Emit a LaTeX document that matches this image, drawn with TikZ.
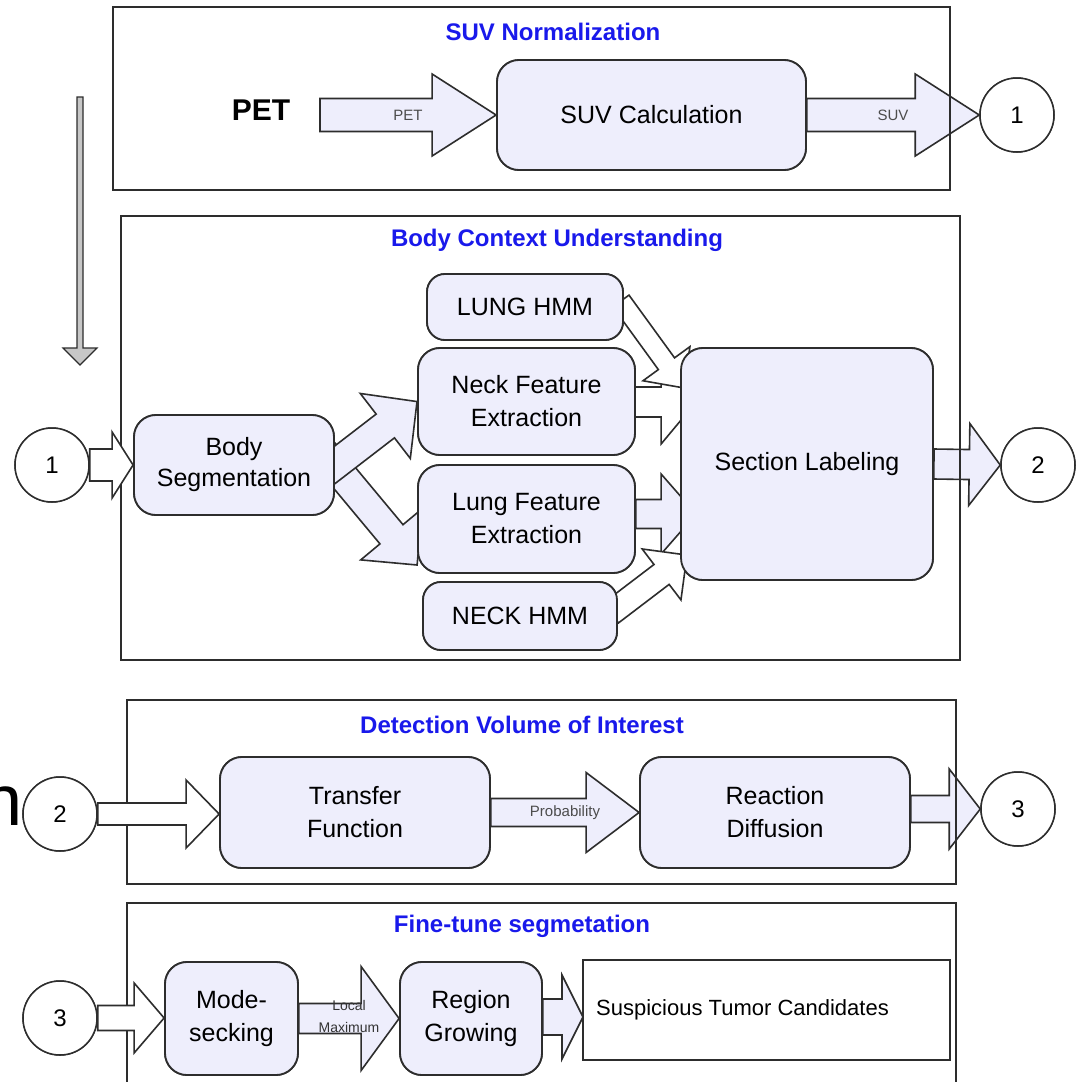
\documentclass[tikz,border=0pt]{standalone}
\usepackage{fontspec}
\setmainfont{Liberation Sans}
\usetikzlibrary{calc}
\definecolor{lav}{RGB}{238,238,252}
\definecolor{ttlblue}{RGB}{25,25,235}
\definecolor{edge}{RGB}{45,45,45}
\newcommand\fsz[2]{\fontsize{#1}{#2}\selectfont}
\newcommand\blockarrow[6][]{%
  \draw[barrow,#1] let \p1=#2, \p2=#3,
    \n1={atan2(\y2-\y1,\x2-\x1)},
    \n2={veclen(\x2-\x1,\y2-\y1)} in
    [shift={(\p1)},rotate=\n1]
    (0pt,-#4) -- (\n2-#6,-#4) -- (\n2-#6,-#5) -- (\n2,0pt) -- (\n2-#6,#5) -- (\n2-#6,#4) -- (0pt,#4) -- cycle;}
\tikzset{
  proc/.style={draw=edge, line width=1.8pt, fill=lav, rounded corners=22pt, align=center, inner sep=0pt, font=\fsz{25}{33}},
  circ/.style={circle, draw=edge, line width=1.5pt, fill=white, minimum size=74pt, inner sep=0pt, font=\fsz{24}{28}},
  frame/.style={draw=edge, line width=1.8pt},
  ttl/.style={text=ttlblue, font=\bfseries\fsz{24}{28}},
  barrow/.style={draw=edge, line width=1.6pt, line join=miter},
  lbl/.style={text=black!70, font=\fsz{15}{16}, inner sep=0pt}
}
\begin{document}
\begin{tikzpicture}[x=1pt,y=-1pt]
\useasboundingbox (0,0) rectangle (1081,1082);
\fill[white] (0,0) rectangle (1081,1082);

% ---------- nodes (positions) ----------
\path
  node[font=\bfseries\fsz{30}{34}] (pet) at (261,110) {PET}
  coordinate (petsrc) at (320,115)
  node[proc, minimum width=309pt, minimum height=110pt] (suvcalc) at (651.5,115) {SUV Calculation}
  node[circ] (c1a) at (1017,115) {1}
  node[proc, minimum width=196pt, minimum height=66pt, rounded corners=18pt] (lunghmm) at (525,307) {LUNG HMM}
  node[proc, minimum width=217pt, minimum height=107pt] (neckfe) at (526.5,401.5) {Neck Feature\\Extraction}
  node[proc, minimum width=217pt, minimum height=108pt] (lungfe) at (526.5,519) {Lung Feature\\Extraction}
  node[proc, minimum width=194pt, minimum height=68pt, rounded corners=18pt] (neckhmm) at (520,616) {NECK HMM}
  node[proc, minimum width=200pt, minimum height=100pt, font=\fsz{25}{31}] (bodyseg) at (234,465) {Body\\Segmentation}
  node[proc, minimum width=252pt, minimum height=232pt] (seclab) at (807,464) {Section Labeling}
  node[circ] (c1b) at (52,465) {1}
  node[circ] (c2a) at (1038,465) {2}
  node[proc, minimum width=270pt, minimum height=111pt] (transfer) at (355,812.5) {Transfer\\Function}
  node[proc, minimum width=270pt, minimum height=111pt] (reaction) at (775,812.5) {Reaction\\Diffusion}
  node[circ] (c2b) at (60,814) {2}
  node[circ] (c3a) at (1018,809) {3}
  node[proc, minimum width=133pt, minimum height=113pt] (mode) at (231.5,1018.5) {Mode-\\secking}
  node[proc, minimum width=142pt, minimum height=113pt] (region) at (471,1018.5) {Region\\Growing}
  node[circ] (c3b) at (60,1018) {3};

% ---------- lavender block arrows ----------
\blockarrow[fill=lav]{(petsrc)}{(suvcalc.west)}{16.5pt}{41pt}{64pt}
\blockarrow[fill=lav]{(suvcalc.east)}{(c1a.west)}{16.5pt}{41pt}{64pt}
\blockarrow[fill=lav]{($(bodyseg.east)+(-12,-13)$)}{($(lungfe.west)+(0,46)$)}{15pt}{40pt}{40pt}
\blockarrow[fill=lav]{($(bodyseg.east)+(-12,9)$)}{(neckfe.west)}{15pt}{41pt}{40pt}
\blockarrow[fill=lav]{($(lungfe.east)+(0,-5)$)}{($(lungfe.east -| seclab.west)+(16,-5)$)}{14.5pt}{40pt}{35pt}
\blockarrow[fill=lav]{(seclab.east)}{(c2a.west)}{15pt}{41pt}{31pt}
\blockarrow[fill=lav]{(transfer.east)}{(reaction.west)}{14pt}{40pt}{53pt}
\blockarrow[fill=lav]{($(reaction.east)+(0,-3.5)$)}{(c3a.west)}{13.5pt}{40pt}{31pt}
\blockarrow[fill=lav]{(mode.east)}{(region.west)}{15pt}{52pt}{38pt}
\coordinate (suspw) at (583,1017);
\blockarrow[fill=lav]{($(region.east)+(0,-1.5)$)}{(suspw)}{18pt}{42pt}{21pt}

% ---------- frames ----------
\draw[frame] (113,7) rectangle (950,190);
\draw[frame] (121,216) rectangle (960,660);
\draw[frame] (127,700) rectangle (956,884);
\draw[frame] (127,1090) -- (127,903) -- (956,903) -- (956,1090);

% ---------- white block arrows ----------
\blockarrow[fill=white]{(c1b.east)}{(bodyseg.west)}{16pt}{33pt}{21pt}
\blockarrow[fill=white]{(c2b.east)}{(transfer.west |- c2b.east)}{11pt}{34pt}{33pt}
\blockarrow[fill=white]{(c3b.east)}{(mode.west |- c3b.east)}{12.5pt}{35pt}{30pt}
\blockarrow[fill=white]{($(neckfe.east)+(-2,0.5)$)}{($(neckfe.east -| seclab.west)+(16,0.5)$)}{15pt}{42pt}{35pt}
\blockarrow[fill=white]{($(lunghmm.east)+(-3,-6)$)}{($(seclab.west)+(4,-76)$)}{10pt}{29pt}{30pt}
\blockarrow[fill=white]{($(neckhmm.east)+(-7,-3)$)}{($(seclab.west)+(7,91)$)}{12.5pt}{32pt}{32pt}

% thin down arrow
\coordinate (dtop) at (80,97);
\coordinate (dbot) at (80,365);
\blockarrow[fill=black!22, line width=1.2pt]{(dtop)}{(dbot)}{3pt}{17pt}{17pt}

% ---------- redraw nodes on top ----------
\path
  node[proc, minimum width=309pt, minimum height=110pt] at (suvcalc) {SUV Calculation}
  node[circ] at (c1a) {1}
  node[proc, minimum width=196pt, minimum height=66pt, rounded corners=18pt] at (lunghmm) {LUNG HMM}
  node[proc, minimum width=217pt, minimum height=107pt] at (neckfe) {Neck Feature\\Extraction}
  node[proc, minimum width=217pt, minimum height=108pt] at (lungfe) {Lung Feature\\Extraction}
  node[proc, minimum width=194pt, minimum height=68pt, rounded corners=18pt] at (neckhmm) {NECK HMM}
  node[proc, minimum width=200pt, minimum height=100pt, font=\fsz{25}{31}] at (bodyseg) {Body\\Segmentation}
  node[proc, minimum width=252pt, minimum height=232pt] at (seclab) {Section Labeling}
  node[circ] at (c1b) {1}
  node[circ] at (c2a) {2}
  node[proc, minimum width=270pt, minimum height=111pt] at (transfer) {Transfer\\Function}
  node[proc, minimum width=270pt, minimum height=111pt] at (reaction) {Reaction\\Diffusion}
  node[circ] at (c2b) {2}
  node[circ] at (c3a) {3}
  node[proc, minimum width=133pt, minimum height=113pt] at (mode) {Mode-\\secking}
  node[proc, minimum width=142pt, minimum height=113pt] at (region) {Region\\Growing}
  node[circ] at (c3b) {3};

\node[draw=edge, line width=1.8pt, fill=white, minimum width=367pt, minimum height=100pt, inner sep=0pt] (susp) at (766.5,1010) {};
\node[anchor=west, font=\fsz{22}{26}, inner sep=0pt] (susptxt) at (596,1010) {Suspicious Tumor Candidates};

% ---------- arrow labels ----------
\node[lbl] (petlbl) at ($(petsrc)!0.5!(suvcalc.west)$) {PET};
\node[lbl] (suvlbl) at ($(suvcalc.east)!0.5!(c1a.west)$) {SUV};
\node[lbl] (problbl) at ($(transfer.east)!0.5!(reaction.west)$) {Probability};
\node[lbl, text=black!80, font=\fsz{14}{22}, align=center] (lmlbl) at ($(mode.east)!0.5!(region.west)+(0,-2)$) {Local\\Maximum};

% ---------- titles ----------
\node[ttl] (t1) at (553,32) {SUV Normalization};
\node[ttl] (t2) at (557,240) {Body Context Understanding};
\node[ttl] (t3) at (522,725) {Detection Volume of Interest};
\node[ttl] (t4) at (522,926) {Fine-tune segmetation};

% cut-off letter at left edge
\node[font=\fsz{72}{72}, inner sep=0pt] (ncut) at (3,806) {n};
\end{tikzpicture}
\end{document}
